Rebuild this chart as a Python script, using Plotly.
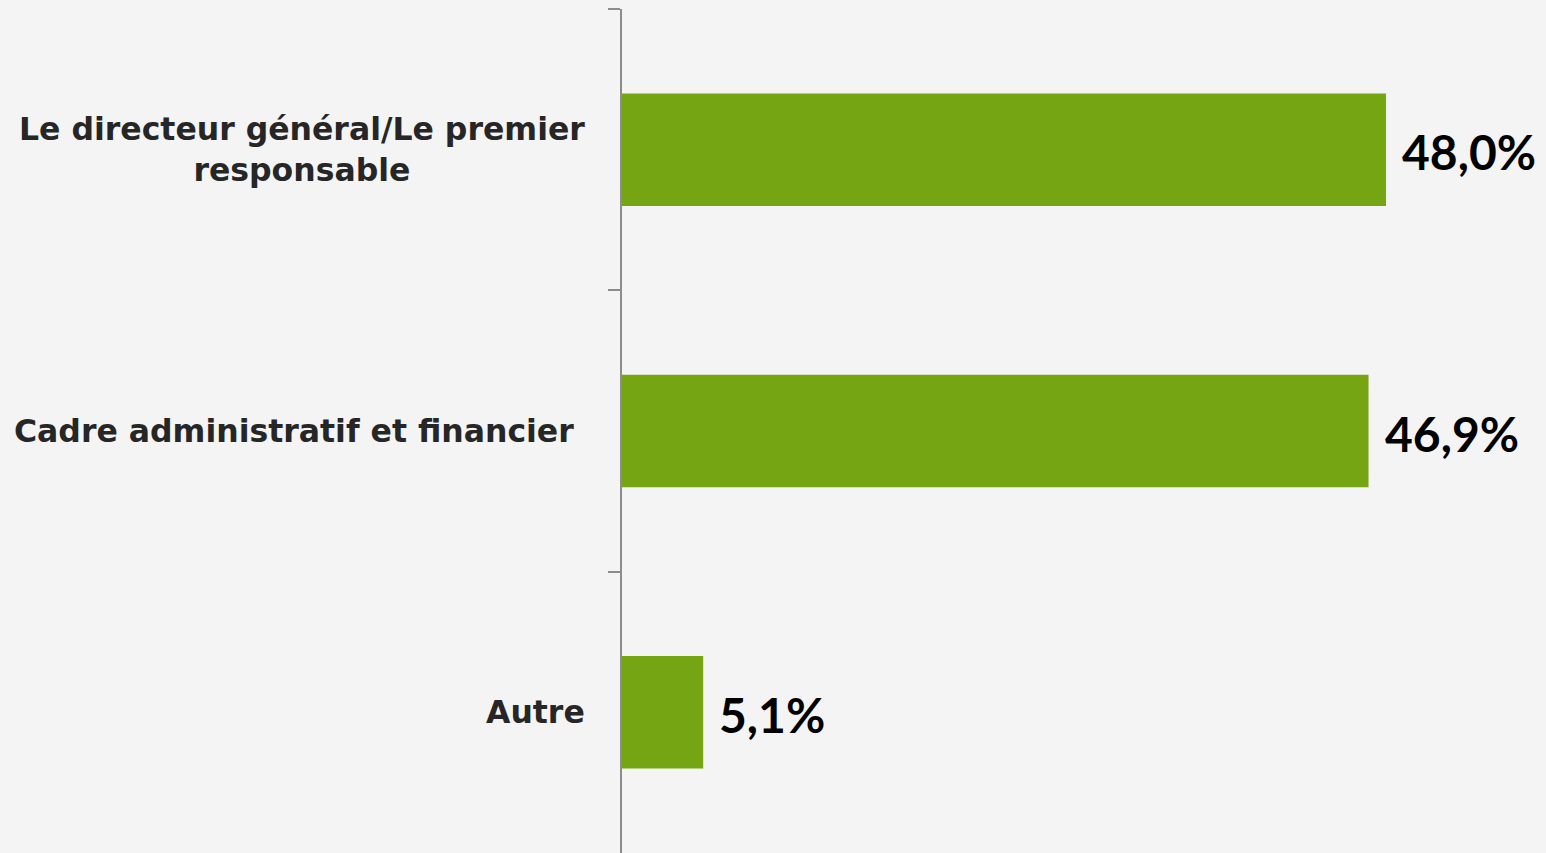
import plotly.graph_objects as go

# Survey responses: who is in charge
categories = ["Le directeur général/Le premier<br>responsable",
              "Cadre administratif et financier\u00a0",
              "Autre"]
values = [48.0, 46.9, 5.1]
value_labels = ["48,0%", "46,9%", "5,1%"]

BAR_COLOR = "#75a513"
AXIS_COLOR = "#8c8c8c"
BG = "#f4f4f4"
LABEL_FONT = dict(family="DejaVu Sans", size=31.5, color="#262626", weight="bold")

fig = go.Figure(
    go.Bar(
        x=values,
        y=categories,
        orientation="h",
        marker=dict(color=BAR_COLOR, line=dict(width=0)),
        width=0.4,
        hoverinfo="skip",
    )
)

# value labels placed just right of each bar end
for cat, val, lab in zip(categories, values, value_labels):
    fig.add_annotation(
        x=val, y=cat, text=lab, showarrow=False,
        xanchor="left", yanchor="middle", xshift=14, yshift=-2,
        font=dict(family="Lato", size=48, color="#000000", weight="bold"),
    )

# category labels, centred lines, right edge left of the axis
for cat in categories:
    fig.add_annotation(
        xref="paper", x=0, y=cat, text=cat, showarrow=False,
        xanchor="right", yanchor="middle", align="center",
        xshift=-35, yshift=0,
        font=LABEL_FONT,
    )

fig.update_layout(
    width=1546, height=853,
    margin=dict(l=622, r=0, t=9, b=0),
    paper_bgcolor=BG, plot_bgcolor=BG,
    showlegend=False,
    font=dict(family="Lato"),
)
fig.update_xaxes(range=[0, 58.05], visible=False, fixedrange=True)
fig.update_yaxes(
    autorange="reversed",
    type="category",
    showline=True, linecolor=AXIS_COLOR, linewidth=2,
    ticks="outside", tickson="boundaries", ticklen=12,
    tickcolor=AXIS_COLOR, tickwidth=2,
    showgrid=False, zeroline=False,
    showticklabels=False,
    fixedrange=True,
)

fig.write_html("out.html")
